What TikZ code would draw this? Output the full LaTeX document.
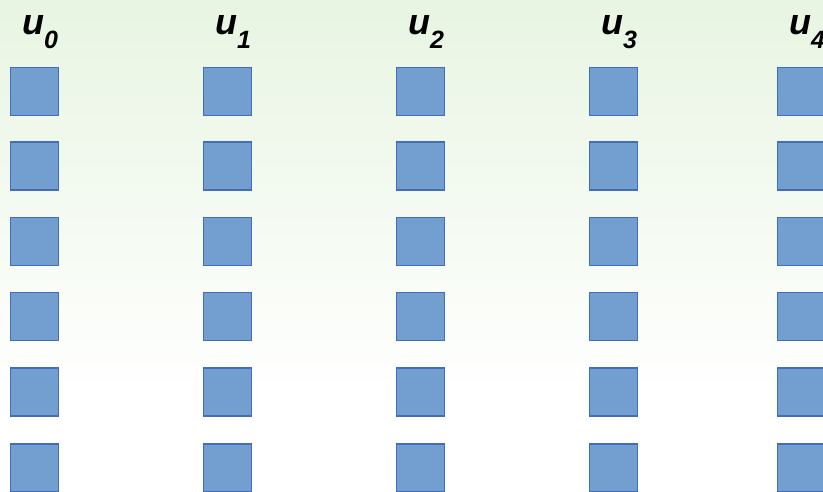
\documentclass[tikz,border=0pt]{standalone}
\usepackage{fontspec}
\setmainfont{Liberation Sans}
\begin{document}
\begin{tikzpicture}[x=1pt,y=-1pt,
  cell/.style={draw=cellborder, fill=cellfill, line width=1.3pt,
    minimum size=48pt, inner sep=0pt, anchor=north west},
  colhead/.style={inner sep=0pt, anchor=base west, text=black}]
  \definecolor{cellfill}{RGB}{114,159,207}
  \definecolor{cellborder}{RGB}{66,108,188}
  \definecolor{bgtop}{RGB}{232,245,226}
  % canvas and soft green wash at the top
  \fill[white] (0,0) rectangle (823,491);
  \shade[top color=bgtop, bottom color=white] (0,0) rectangle (823,400);
  \useasboundingbox (0,0) rectangle (823,491);
  % column headings u_0 ... u_4
  \foreach \c/\x in {0/9,1/202,2/395,3/588,4/776} {
    \node[colhead] (lab\c) at (\x+13,34)
      {\bfseries\itshape\fontsize{36}{36}\selectfont u\raisebox{-14pt}{\fontsize{25}{25}\selectfont \c}};
  }
  % grid of cells
  \foreach \c/\x in {0/9,1/202,2/395,3/588,4/776} {
    \foreach \r/\y in {0/66.6,1/141.2,2/216.6,3/291.6,4/367.2,5/443.2} {
      \node[cell] (cell\c\r) at (\x+0.6,\y) {};
    }
  }
\end{tikzpicture}
\end{document}
